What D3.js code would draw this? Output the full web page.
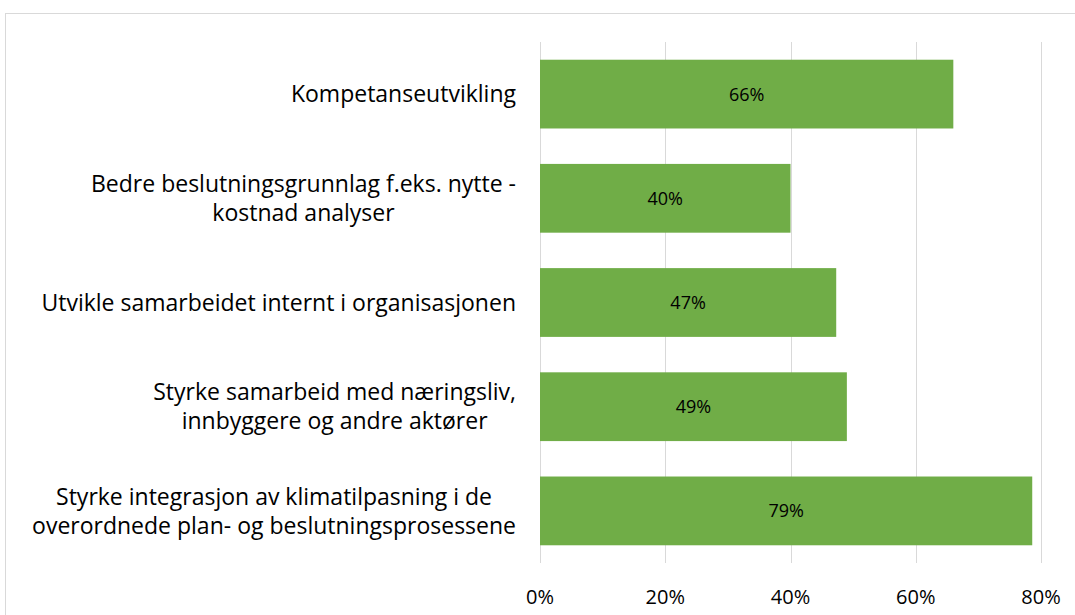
<!DOCTYPE html>
<html>
<head>
<meta charset="utf-8">
<script src="https://cdn.jsdelivr.net/npm/d3@7"></script>
<style>
    body { margin: 0; background: #fff; }
    text { font-family: "Open Sans", sans-serif; fill: #000; }
</style>
</head>
<body>
<script>
// Chart data
var categories = [
    ["Kompetanseutvikling"],
    ["Bedre beslutningsgrunnlag f.eks. nytte -", "kostnad analyser"],
    ["Utvikle samarbeidet internt i organisasjonen"],
    ["Styrke samarbeid med næringsliv,", "innbyggere og andre aktører"],
    ["Styrke integrasjon av klimatilpasning i de", "overordnede plan- og beslutningsprosessene"]
];
var values = [66, 40, 47.3, 49, 78.6];
var ticks = [0, 20, 40, 60, 80];

var w = 1075, h = 615;

var svg = d3.select("body")
    .append("svg")
    .attr("width", w)
    .attr("height", h);

// Chart area frame
svg.append("rect")
    .attr("x", 5.5)
    .attr("y", 13.5)
    .attr("width", 1100)
    .attr("height", 700)
    .style("fill", "none")
    .style("stroke", "#d9d9d9");

var x = d3.scaleLinear()
    .domain([0, 80])
    .range([540, 1041]);

var y = d3.scaleBand()
    .domain(d3.range(categories.length))
    .range([42, 563])
    .paddingInner(0.34)
    .paddingOuter(0.17);

// Vertical gridlines
svg.selectAll(".grid")
    .data(ticks)
    .enter()
    .append("line")
    .attr("class", "grid")
    .attr("x1", function(d){ return Math.round(x(d)) + 0.5; })
    .attr("x2", function(d){ return Math.round(x(d)) + 0.5; })
    .attr("y1", 42)
    .attr("y2", 563)
    .style("stroke", "#d9d9d9")
    .style("stroke-width", 1);

// Bars
svg.selectAll(".bar")
    .data(values)
    .enter()
    .append("rect")
    .attr("class", "bar")
    .attr("x", x(0))
    .attr("y", function(d, i){ return y(i); })
    .attr("width", function(d){ return x(d) - x(0); })
    .attr("height", y.bandwidth())
    .style("fill", "#70ad47");

// Value labels in the middle of each bar
svg.selectAll(".value")
    .data(values)
    .enter()
    .append("text")
    .attr("class", "value")
    .attr("text-anchor", "middle")
    .attr("x", function(d){ return (x(0) + x(d)) / 2; })
    .attr("y", function(d, i){ return y(i) + y.bandwidth() / 2; })
    .attr("dy", "0.36em")
    .style("font-size", "18px")
    .text(function(d){ return Math.round(d) + "%"; });

// X axis tick labels
svg.selectAll(".tick-label")
    .data(ticks)
    .enter()
    .append("text")
    .attr("class", "tick-label")
    .attr("text-anchor", "middle")
    .attr("x", function(d){ return x(d); })
    .attr("y", 604)
    .style("font-size", "20px")
    .text(function(d){ return d + "%"; });

// Category labels: block right-aligned, lines centred inside the block
var labelRight = 516, lineH = 29;
categories.forEach(function(lines, i){
    var g = svg.append("text")
        .attr("class", "cat")
        .attr("text-anchor", "middle")
        .style("font-size", "23px");
    var spans = lines.map(function(t){
        return g.append("tspan").text(t);
    });
    var maxW = d3.max(spans, function(s){ return s.node().getComputedTextLength(); });
    var cx = labelRight - maxW / 2;
    var cy = y(i) + y.bandwidth() / 2;
    spans.forEach(function(s, j){
        s.attr("x", cx)
            .attr("y", cy + (j - (lines.length - 1) / 2) * lineH)
            .attr("dy", "0.36em");
    });
});
</script>
</body>
</html>
